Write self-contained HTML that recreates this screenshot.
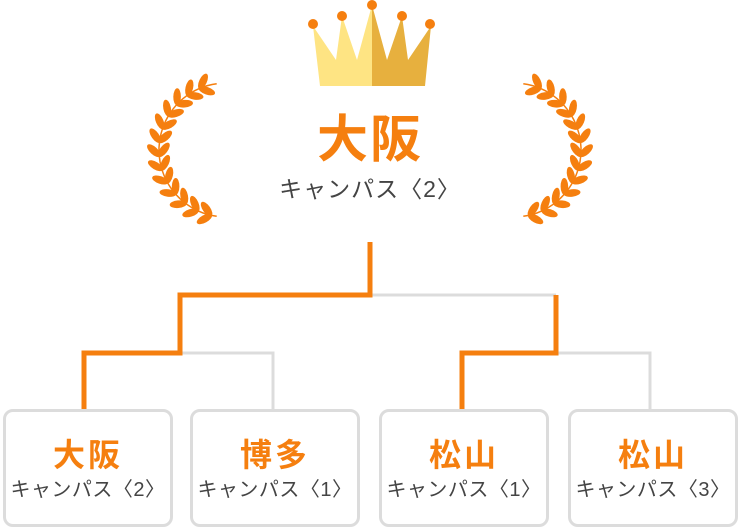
<!DOCTYPE html>
<html><head><meta charset="utf-8"><style>
html,body{margin:0;padding:0;background:#fff;}
body{width:740px;height:527px;position:relative;overflow:hidden;font-family:"Liberation Sans","Noto Sans CJK JP",sans-serif;}
.box{position:absolute;top:409px;width:164px;height:112px;border:3px solid #dcdcdc;border-radius:10px;background:#fff;text-align:center;box-sizing:content-box;}
.box .n{color:#f57f0f;font-weight:bold;font-size:32px;margin-top:24px;line-height:38px;letter-spacing:3px;}
.box .s{color:#444;font-size:20px;line-height:26px;margin-top:3px;letter-spacing:0.5px;}
.title{position:absolute;left:0;width:740px;text-align:center;top:110px;color:#f57f0f;font-weight:bold;font-size:51px;line-height:60px;letter-spacing:2px;}
.sub{position:absolute;left:0;width:740px;text-align:center;top:175px;color:#444;font-size:23px;line-height:28px;letter-spacing:1px;}
</style></head><body>
<svg id="sv" width="740" height="527" style="position:absolute;left:0;top:0">
<g fill="none" stroke-linejoin="miter">
<polyline points="370,295 556,295" stroke="#dcdcdc" stroke-width="3"/>
<polyline points="180,353 273,353 273,410" stroke="#dcdcdc" stroke-width="3"/>
<polyline points="556,353 650,353 650,410" stroke="#dcdcdc" stroke-width="3"/>
<polyline points="370,242 370,295 180,295 180,353 84,353 84,410" stroke="#f57f0f" stroke-width="5"/>
<polyline points="556,295 556,353 462,353 462,410" stroke="#f57f0f" stroke-width="5"/>
</g>
<polygon points="320,86 313,26 336,60 342,16 357,60 372,5 372,86" fill="#fee483"/>
<polygon points="372,86 372,5 387,60 402,16 408,60 431,26 425,86" fill="#e7b03e"/>
<g fill="#f57f0f">
<circle cx="313" cy="24" r="5"/><circle cx="342" cy="16" r="5"/><circle cx="372" cy="5" r="5"/><circle cx="402" cy="16" r="5"/><circle cx="430" cy="24" r="5"/>
</g>
<g id="lau"></g>
</svg>
<div class="title">大阪</div>
<div class="sub">キャンパス〈2〉</div>
<div class="box" style="left:3px"><div class="n">大阪</div><div class="s">キャンパス〈2〉</div></div>
<div class="box" style="left:190px"><div class="n">博多</div><div class="s">キャンパス〈1〉</div></div>
<div class="box" style="left:379px"><div class="n">松山</div><div class="s">キャンパス〈1〉</div></div>
<div class="box" style="left:568px"><div class="n">松山</div><div class="s">キャンパス〈3〉</div></div>
<script>
(function(){
var g=document.getElementById('lau'),s='';
function laurel(cx,cy,r,mir){
 var out='';
 var d='M';
 for(var a=98;a<=262;a+=4){var t=a*Math.PI/180;var x=cx+r*Math.cos(t),y=cy+r*Math.sin(t);d+=(mir?740-x:x).toFixed(1)+','+y.toFixed(1)+' ';}
 out+='<path d="'+d+'" fill="none" stroke="#f57f0f" stroke-width="1.5"/>';
 for(var a=103;a<=258;a+=12){
  var t=a*Math.PI/180;var x=cx+r*Math.cos(t),y=cy+r*Math.sin(t);
  var tx=-Math.sin(t),ty=Math.cos(t);
  var tang=Math.atan2(ty,tx)*180/Math.PI;
  [1,-1].forEach(function(side){
   var ang=tang+side*42;
   var ar=ang*Math.PI/180;
   var px=x+Math.cos(ar)*7.5,py=y+Math.sin(ar)*7.5;
   if(mir){px=740-px;ang=180-ang;}
   out+='<ellipse cx="'+px.toFixed(1)+'" cy="'+py.toFixed(1)+'" rx="8.5" ry="3.8" transform="rotate('+ang.toFixed(1)+' '+px.toFixed(1)+' '+py.toFixed(1)+')" fill="#f57f0f"/>';
  });
 }
 return out;
}
s+=laurel(226,150,67,false);
s+=laurel(226,150,67,true);
g.innerHTML=s;
})();
</script>
</body></html>
